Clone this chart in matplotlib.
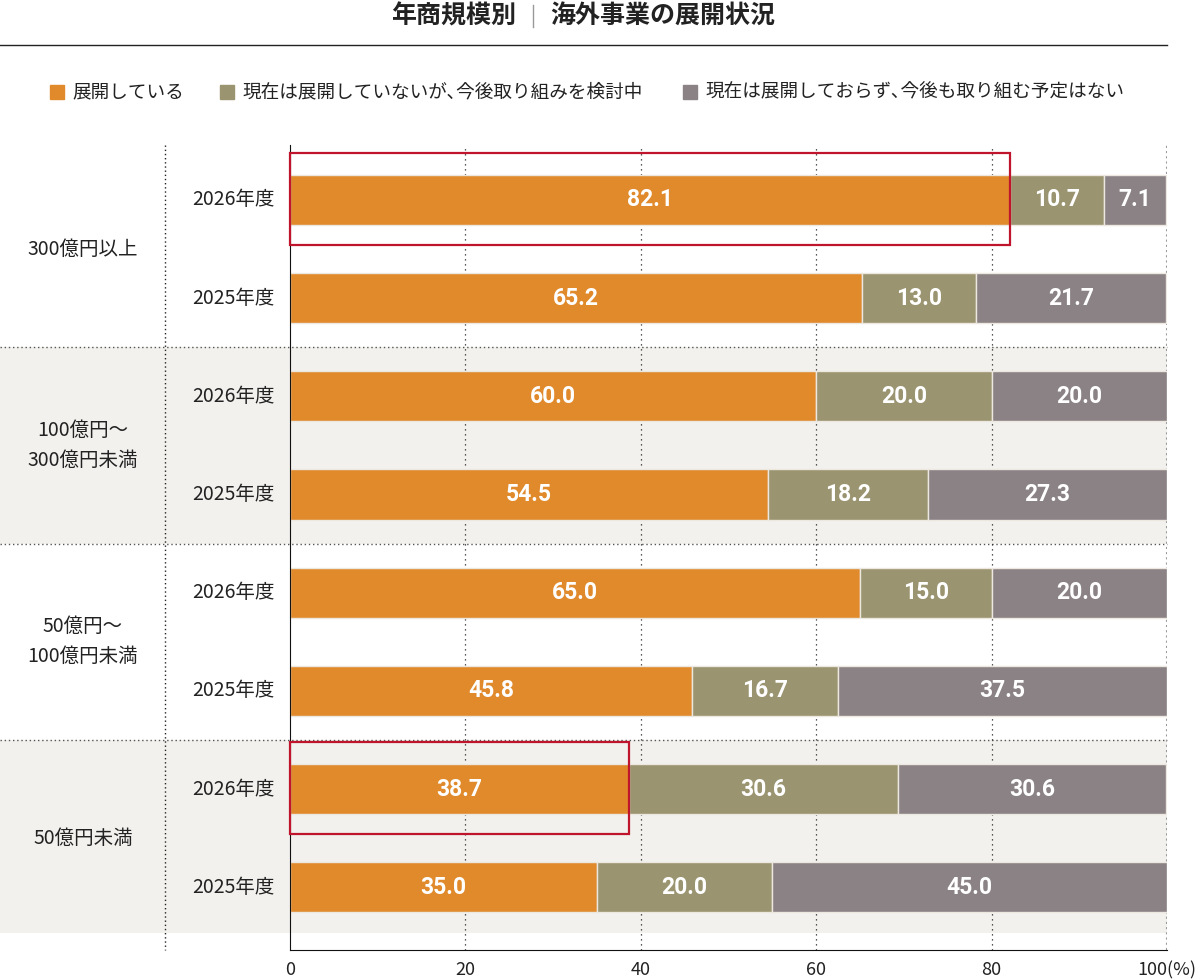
import numpy as np
import matplotlib
matplotlib.use("Agg")
import matplotlib.pyplot as plt
from matplotlib.patches import Rectangle
import matplotlib.transforms as mtransforms

plt.rcParams['font.family'] = ['Noto Sans CJK JP', 'DejaVu Sans']

groups = ["300億円以上", "100億円～\n300億円未満", "50億円～\n100億円未満", "50億円未満"]
years = ["2026年度", "2025年度"]
deployed = [82.1, 65.2, 60.0, 54.5, 65.0, 45.8, 38.7, 35.0]
considering = [10.7, 13.0, 20.0, 18.2, 15.0, 16.7, 30.6, 20.0]
no_plan = [7.1, 21.7, 20.0, 27.3, 20.0, 37.5, 30.6, 45.0]
series_names = ["展開している", "現在は展開していないが､今後取り組みを検討中",
                "現在は展開しておらず､今後も取り組む予定はない"]
colors = ["#e08a2c", "#9a9470", "#8a8285"]
highlight = [0, 6]  # rows boxed in red
xticks = [0, 20, 40, 60, 80, 100]
xtick_labels = ["0", "20", "40", "60", "80", "100(%)"]

W, H = 1200, 980
fig = plt.figure(figsize=(W / 100, H / 100), dpi=100)
ax = fig.add_axes([290 / W, 1 - 950 / H, (1167 - 290) / W, (950 - 145) / H])

n = len(deployed)
y = np.arange(n)
ax.set_xlim(0, 100)
ax.set_ylim(7.64, -0.56)

# shaded bands for alternating groups
trans = mtransforms.blended_transform_factory(fig.transFigure, ax.transData)
for g in (1, 3):
    y0 = g * 2 - 0.5
    ax.add_patch(Rectangle((0, y0), 1167 / W, 2.0 if g == 1 else 1.97,
                           transform=trans, color="#f3f1ee", lw=0,
                           clip_on=False, zorder=0))
for yb in (1.5, 3.5, 5.5):
    ax.plot([0, 1167 / W], [yb, yb], transform=trans, color="#555555",
            lw=1, ls=(0, (1, 2)), clip_on=False, zorder=1)
# vertical dotted separator
ax.plot([165 / W, 165 / W], [-0.56, 7.64], transform=trans, color="#222222",
        lw=1, ls=(0, (1, 2)), clip_on=False, zorder=1)

# grid
for xv in (20, 40, 60, 80):
    ax.axvline(xv, color="#222222", lw=0.9, ls=(0, (1, 3)), zorder=1)
ax.axvline(100, color="#999999", lw=1.5, ls=(0, (1, 1.5)), zorder=1)

left = np.zeros(n)
for vals, c in zip([deployed, considering, no_plan], colors):
    vals = np.array(vals)
    ax.barh(y, vals, left=left, height=0.51, color=c, edgecolor="#ece8e0",
            lw=1, zorder=2)
    for yi, l, v in zip(y, left, vals):
        ax.text(l + v / 2, yi, f"{v:.1f}", ha="center", va="center",
                color="white", fontsize=16.5, fontweight="bold",
                family="Roboto", zorder=3)
    left = left + vals

for r in highlight:
    ax.add_patch(Rectangle((0, r - 0.48), deployed[r], 0.94, fill=False,
                           ec="#c0142c", lw=1.6, zorder=4, clip_on=False))

# year labels
for yi in y:
    ax.text(275 / W, yi, years[yi % 2], transform=trans, ha="right",
            va="center", fontsize=14, color="#222222")
for g, name in enumerate(groups):
    ax.text(83 / W, g * 2 + 0.5, name, transform=trans, ha="center",
            va="center", fontsize=14, color="#222222", linespacing=1.55)

for s in ("top", "right"):
    ax.spines[s].set_visible(False)
ax.spines["left"].set_color("#111111")
ax.spines["bottom"].set_color("#111111")
ax.set_yticks([])
ax.set_xticks(xticks)
ax.set_xticklabels(xtick_labels, fontsize=13, color="#222222")
ax.tick_params(axis="x", length=0, pad=8)
ax.get_xticklabels()[-1].set_horizontalalignment("center")

# title
fig.text(516 / W, 1 - 16 / H, "年商規模別", ha="right", va="center",
         fontsize=18, fontweight="bold", color="#222222")
fig.add_artist(plt.Line2D([533 / W, 533 / W], [1 - 5 / H, 1 - 27 / H],
                          color="#999999", lw=1))
fig.text(550 / W, 1 - 16 / H, "海外事業の展開状況", ha="left", va="center",
         fontsize=18, fontweight="bold", color="#222222")
fig.add_artist(plt.Line2D([0, 1167 / W], [1 - 45 / H, 1 - 45 / H],
                          color="#222222", lw=1))

# legend
for xs, name, c in zip([50, 220, 683], series_names, colors):
    fig.add_artist(Rectangle((xs / W, 1 - 99 / H), 14 / W, 14 / H,
                             color=c, transform=fig.transFigure))
    fig.text((xs + 22) / W, 1 - 92 / H, name, ha="left", va="center",
             fontsize=13.4, color="#222222")

fig.savefig("out.png", dpi=100)
